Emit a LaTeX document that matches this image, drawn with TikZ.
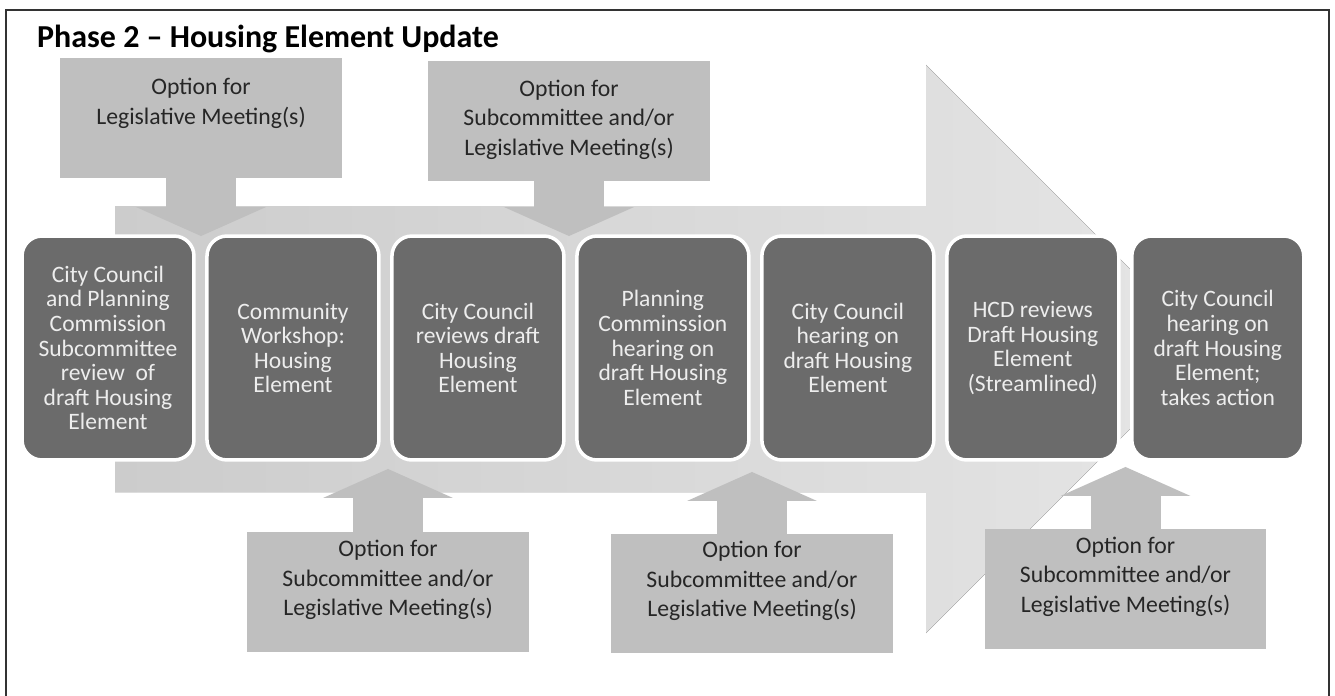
\documentclass[tikz,border=0pt]{standalone}
\usepackage{fontspec}
\setmainfont{Carlito}
\usetikzlibrary{arrows.meta, positioning, calc}

\definecolor{stagefill}{gray}{0.42}
\definecolor{optfill}{gray}{0.75}
\definecolor{bandleft}{gray}{0.80}
\definecolor{bandright}{gray}{0.90}

\begin{document}
\begin{tikzpicture}[
x=0.02cm, y=-0.02cm,
node distance=0.26cm,
stage/.style={rectangle, rounded corners=0.4cm, fill=stagefill, draw=white, line width=2pt,
minimum width=3.44cm, minimum height=4.48cm, outer sep=0pt, align=center,
text=black!7, font=\fontsize{13.4}{14}\selectfont},
optbox/.style={rectangle, fill=optfill, minimum width=5.64cm, minimum height=2.4cm, outer sep=0pt},
opttext/.style={align=center, text=black!85, font=\fontsize{13.5}{16.7}\selectfont},
callout/.style={optfill, line width=1.4cm, shorten <=-1pt,
-{Triangle[length=0.58cm, width=2.6cm, line width=0pt]}}
]
\useasboundingbox (0,0) rectangle (1335,696);

% frame and heading
\draw[black!80, line width=1.4pt] (6,696) -- (6,10) -- (1329,10) -- (1329,696);
\node[anchor=base west, font=\fontsize{18.2}{22}\selectfont\bfseries] (title) at (31,48)
{Phase 2 -- Housing Element Update};

% the big process arrow behind the steps
\fill[left color=bandleft, right color=bandright]
(115,206) -- (926,206) -- (926,65) -- (1210,349) -- (926,633) -- (926,492) -- (115,492) -- cycle;

% steps
\node[stage] (s1) at (108,348) {City Council\\and Planning\\Commission\\Subcommittee\\review\ \ of\\draft Housing\\Element};
\node[stage, right=of s1] (s2) {Community\\Workshop:\\Housing\\Element};
\node[stage, right=of s2] (s3) {City Council\\reviews draft\\Housing\\Element};
\node[stage, right=of s3] (s4) {Planning\\Comminssion\\hearing on\\draft Housing\\Element};
\node[stage, right=of s4] (s5) {City Council\\hearing on\\draft Housing\\Element};
\node[stage, right=of s5] (s6) {HCD reviews\\Draft Housing\\Element\\(Streamlined)};
\node[stage, right=of s6] (s7) {City Council\\hearing on\\draft Housing\\Element;\\takes action};

\coordinate (g12) at ($(s1.north east)!.5!(s2.north west)$);
\coordinate (g34) at ($(s3.north east)!.5!(s4.north west)$);
\coordinate (g23) at ($(s2.south east)!.5!(s3.south west)+(0,9)$);
\coordinate (g45) at ($(s4.south east)!.5!(s5.south west)+(0,12)$);
\coordinate (g67) at ($(s6.south east)!.5!(s7.south west)+(0,7)$);

% meeting options
\node[optbox] (optA) at (201,118) {};
\node[opttext] (optAtext) at (201,103.5) {Option for\\Legislative Meeting(s)};
\node[optbox] (optB) at (569,121) {};
\node[opttext] (optBtext) at (569,119.5) {Option for\\Subcommittee and/or\\Legislative Meeting(s)};
\node[optbox] (optC) at (388,592) {};
\node[opttext] (optCtext) at (388,580) {Option for\\Subcommittee and/or\\Legislative Meeting(s)};
\node[optbox] (optD) at (752,593.5) {};
\node[opttext] (optDtext) at (752,581) {Option for\\Subcommittee and/or\\Legislative Meeting(s)};
\node[optbox] (optE) at (1125.5,589) {};
\node[opttext] (optEtext) at (1125.5,576.5) {Option for\\Subcommittee and/or\\Legislative Meeting(s)};

\draw[callout] (optA.south) -- (optA.south |- g12);
\draw[callout] (optB.south) -- (optB.south |- g34);
\draw[callout] (optC.north) -- (optC.north |- g23);
\draw[callout] (optD.north) -- (optD.north |- g45);
\draw[callout] (optE.north) -- (optE.north |- g67);

\end{tikzpicture}
\end{document}
